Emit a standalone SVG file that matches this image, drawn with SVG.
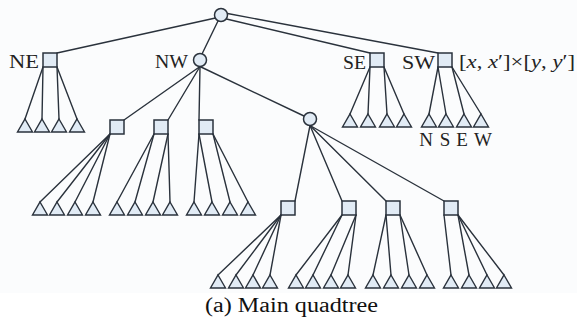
<svg xmlns="http://www.w3.org/2000/svg" xmlns:xlink="http://www.w3.org/1999/xlink" width="577" height="324" viewBox="0 0 577 324">
  <style>
    .edge { stroke: #2a323c; stroke-width: 1.4; fill: none; stroke-linecap: round; }
    .node { fill: #e1ebf5; stroke: #2a323c; stroke-width: 1.5; }
    .leaf { fill: #e1ebf5; stroke: #2a323c; stroke-width: 1.4; stroke-linejoin: miter; }
    .lbl { font-family: 'Liberation Serif', 'Times New Roman', Times, serif; font-size: 19px; fill: #222; }
    .cap { font-family: 'Liberation Serif', 'Times New Roman', Times, serif; font-size: 20px; fill: #111; }
  </style>
  <defs>
    <!-- leaf triangle, apex at origin -->
    <path id="tri" class="leaf" d="M0,0 L7.5,13 L-7.5,13 Z"/>
  </defs>

  <rect x="0" y="0" width="577" height="293" fill="#fbfcfd"/>
  <rect x="0" y="293" width="577" height="31" fill="#ffffff"/>

  <!-- connectors -->
  <g id="edges">
    <!-- root -->
    <line class="edge" x1="215.5" y1="18" x2="57" y2="53"/>
    <line class="edge" x1="218" y1="21" x2="202" y2="54"/>
    <line class="edge" x1="226.5" y1="19" x2="370" y2="53"/>
    <line class="edge" x1="227.5" y1="13.5" x2="438" y2="53"/>
    <!-- NE -->
    <line class="edge" x1="43" y1="67" x2="25" y2="119"/>
    <line class="edge" x1="43" y1="67" x2="42" y2="119"/>
    <line class="edge" x1="57" y1="67" x2="59" y2="119"/>
    <line class="edge" x1="57" y1="67" x2="77" y2="119"/>
    <!-- SE -->
    <line class="edge" x1="370" y1="67" x2="350" y2="114"/>
    <line class="edge" x1="370" y1="67" x2="368" y2="114"/>
    <line class="edge" x1="384" y1="67" x2="387" y2="114"/>
    <line class="edge" x1="384" y1="67" x2="404" y2="114"/>
    <!-- SW -->
    <line class="edge" x1="438" y1="67" x2="429" y2="114"/>
    <line class="edge" x1="438" y1="67" x2="446" y2="114"/>
    <line class="edge" x1="452" y1="67" x2="464" y2="114"/>
    <line class="edge" x1="452" y1="67" x2="481" y2="114"/>
    <!-- NW -->
    <line class="edge" x1="200" y1="66.5" x2="124" y2="120"/>
    <line class="edge" x1="200" y1="66.5" x2="168" y2="120"/>
    <line class="edge" x1="200" y1="66.5" x2="199" y2="120"/>
    <line class="edge" x1="200" y1="66.5" x2="304" y2="116"/>
    <!-- NW children -->
    <line class="edge" x1="110" y1="134" x2="40" y2="202"/>
    <line class="edge" x1="110" y1="134" x2="57" y2="202"/>
    <line class="edge" x1="110" y1="134" x2="75" y2="202"/>
    <line class="edge" x1="110" y1="134" x2="93" y2="202"/>
    <line class="edge" x1="154" y1="134" x2="117" y2="202"/>
    <line class="edge" x1="154" y1="134" x2="135" y2="202"/>
    <line class="edge" x1="168" y1="134" x2="153" y2="202"/>
    <line class="edge" x1="168" y1="134" x2="170" y2="202"/>
    <line class="edge" x1="199" y1="134" x2="194" y2="202"/>
    <line class="edge" x1="199" y1="134" x2="212" y2="202"/>
    <line class="edge" x1="213" y1="134" x2="230" y2="202"/>
    <line class="edge" x1="213" y1="134" x2="248" y2="202"/>
    <!-- inner circle -->
    <line class="edge" x1="310" y1="125.5" x2="295" y2="201"/>
    <line class="edge" x1="310" y1="125.5" x2="342" y2="201"/>
    <line class="edge" x1="310" y1="125.5" x2="386" y2="201"/>
    <line class="edge" x1="310" y1="125.5" x2="444" y2="201"/>
    <!-- bottom squares -->
    <line class="edge" x1="281" y1="215" x2="218" y2="275"/>
    <line class="edge" x1="281" y1="215" x2="236" y2="275"/>
    <line class="edge" x1="281" y1="215" x2="253" y2="275"/>
    <line class="edge" x1="281" y1="215" x2="270" y2="275"/>
    <line class="edge" x1="342" y1="215" x2="296" y2="275"/>
    <line class="edge" x1="342" y1="215" x2="313" y2="275"/>
    <line class="edge" x1="356" y1="215" x2="331" y2="275"/>
    <line class="edge" x1="356" y1="215" x2="348" y2="275"/>
    <line class="edge" x1="386" y1="215" x2="373" y2="275"/>
    <line class="edge" x1="386" y1="215" x2="391" y2="275"/>
    <line class="edge" x1="400" y1="215" x2="409" y2="275"/>
    <line class="edge" x1="400" y1="215" x2="427" y2="275"/>
    <line class="edge" x1="444" y1="215" x2="451" y2="275"/>
    <line class="edge" x1="458" y1="215" x2="469" y2="275"/>
    <line class="edge" x1="458" y1="215" x2="487" y2="275"/>
    <line class="edge" x1="458" y1="215" x2="504" y2="275"/>
  </g>

  <!-- internal nodes -->
  <g id="root"><circle class="node" cx="221" cy="15" r="6.5"/></g>
  <g id="ne"><rect class="node" x="43" y="53" width="14" height="14"/><text class="lbl" x="9" y="68" textLength="30" lengthAdjust="spacingAndGlyphs">NE</text></g>
  <g id="nw"><circle class="node" cx="200" cy="60" r="6.5"/><text class="lbl" x="155" y="68" textLength="33" lengthAdjust="spacingAndGlyphs">NW</text></g>
  <g id="se"><rect class="node" x="370" y="53" width="14" height="14"/><text class="lbl" x="343" y="69" textLength="23" lengthAdjust="spacingAndGlyphs">SE</text></g>
  <g id="sw"><rect class="node" x="438" y="53" width="14" height="14"/><text class="lbl" x="402" y="69" textLength="33" lengthAdjust="spacingAndGlyphs">SW</text>
    <text class="lbl" x="459" y="68" textLength="116" lengthAdjust="spacingAndGlyphs">[<tspan font-style="italic">x</tspan>, <tspan font-style="italic">x</tspan>′]×[<tspan font-style="italic">y</tspan>, <tspan font-style="italic">y</tspan>′]</text>
  </g>
  <g id="nw-1"><rect class="node" x="110" y="120" width="14" height="14"/></g>
  <g id="nw-2"><rect class="node" x="154" y="120" width="14" height="14"/></g>
  <g id="nw-3"><rect class="node" x="199" y="120" width="14" height="14"/></g>
  <g id="nw-4"><circle class="node" cx="310" cy="119" r="6.5"/></g>
  <g id="nw-4-1"><rect class="node" x="281" y="201" width="14" height="14"/></g>
  <g id="nw-4-2"><rect class="node" x="342" y="201" width="14" height="14"/></g>
  <g id="nw-4-3"><rect class="node" x="386" y="201" width="14" height="14"/></g>
  <g id="nw-4-4"><rect class="node" x="444" y="201" width="14" height="14"/></g>

  <!-- leaves -->
  <g id="ne-leaves">
    <use id="ne-n" href="#tri" xlink:href="#tri" x="25" y="119"/>
    <use id="ne-s" href="#tri" xlink:href="#tri" x="42" y="119"/>
    <use id="ne-e" href="#tri" xlink:href="#tri" x="59" y="119"/>
    <use id="ne-w" href="#tri" xlink:href="#tri" x="77" y="119"/>
  </g>
  <g id="se-leaves">
    <use id="se-n" href="#tri" xlink:href="#tri" x="350" y="114"/>
    <use id="se-s" href="#tri" xlink:href="#tri" x="368" y="114"/>
    <use id="se-e" href="#tri" xlink:href="#tri" x="387" y="114"/>
    <use id="se-w" href="#tri" xlink:href="#tri" x="404" y="114"/>
  </g>
  <g id="sw-leaves">
    <use id="sw-n" href="#tri" xlink:href="#tri" x="429" y="114"/>
    <use id="sw-s" href="#tri" xlink:href="#tri" x="446" y="114"/>
    <use id="sw-e" href="#tri" xlink:href="#tri" x="464" y="114"/>
    <use id="sw-w" href="#tri" xlink:href="#tri" x="481" y="114"/>
    <text class="lbl" x="426" y="146" text-anchor="middle">N</text>
    <text class="lbl" x="445" y="146" text-anchor="middle">S</text>
    <text class="lbl" x="462" y="146" text-anchor="middle">E</text>
    <text class="lbl" x="483" y="146" text-anchor="middle">W</text>
  </g>
  <g id="nw-1-leaves">
    <use id="nw-1-n" href="#tri" xlink:href="#tri" x="40" y="202"/>
    <use id="nw-1-s" href="#tri" xlink:href="#tri" x="57" y="202"/>
    <use id="nw-1-e" href="#tri" xlink:href="#tri" x="75" y="202"/>
    <use id="nw-1-w" href="#tri" xlink:href="#tri" x="93" y="202"/>
  </g>
  <g id="nw-2-leaves">
    <use id="nw-2-n" href="#tri" xlink:href="#tri" x="117" y="202"/>
    <use id="nw-2-s" href="#tri" xlink:href="#tri" x="135" y="202"/>
    <use id="nw-2-e" href="#tri" xlink:href="#tri" x="153" y="202"/>
    <use id="nw-2-w" href="#tri" xlink:href="#tri" x="170" y="202"/>
  </g>
  <g id="nw-3-leaves">
    <use id="nw-3-n" href="#tri" xlink:href="#tri" x="194" y="202"/>
    <use id="nw-3-s" href="#tri" xlink:href="#tri" x="212" y="202"/>
    <use id="nw-3-e" href="#tri" xlink:href="#tri" x="230" y="202"/>
    <use id="nw-3-w" href="#tri" xlink:href="#tri" x="248" y="202"/>
  </g>
  <g id="nw-4-1-leaves">
    <use id="nw-4-1-n" href="#tri" xlink:href="#tri" x="218" y="275"/>
    <use id="nw-4-1-s" href="#tri" xlink:href="#tri" x="236" y="275"/>
    <use id="nw-4-1-e" href="#tri" xlink:href="#tri" x="253" y="275"/>
    <use id="nw-4-1-w" href="#tri" xlink:href="#tri" x="270" y="275"/>
  </g>
  <g id="nw-4-2-leaves">
    <use id="nw-4-2-n" href="#tri" xlink:href="#tri" x="296" y="275"/>
    <use id="nw-4-2-s" href="#tri" xlink:href="#tri" x="313" y="275"/>
    <use id="nw-4-2-e" href="#tri" xlink:href="#tri" x="331" y="275"/>
    <use id="nw-4-2-w" href="#tri" xlink:href="#tri" x="348" y="275"/>
  </g>
  <g id="nw-4-3-leaves">
    <use id="nw-4-3-n" href="#tri" xlink:href="#tri" x="373" y="275"/>
    <use id="nw-4-3-s" href="#tri" xlink:href="#tri" x="391" y="275"/>
    <use id="nw-4-3-e" href="#tri" xlink:href="#tri" x="409" y="275"/>
    <use id="nw-4-3-w" href="#tri" xlink:href="#tri" x="427" y="275"/>
  </g>
  <g id="nw-4-4-leaves">
    <use id="nw-4-4-n" href="#tri" xlink:href="#tri" x="451" y="275"/>
    <use id="nw-4-4-s" href="#tri" xlink:href="#tri" x="469" y="275"/>
    <use id="nw-4-4-e" href="#tri" xlink:href="#tri" x="487" y="275"/>
    <use id="nw-4-4-w" href="#tri" xlink:href="#tri" x="504" y="275"/>
  </g>

  <!-- caption -->
  <text class="cap" x="205" y="312" textLength="173" lengthAdjust="spacingAndGlyphs">(a) Main quadtree</text>
</svg>
